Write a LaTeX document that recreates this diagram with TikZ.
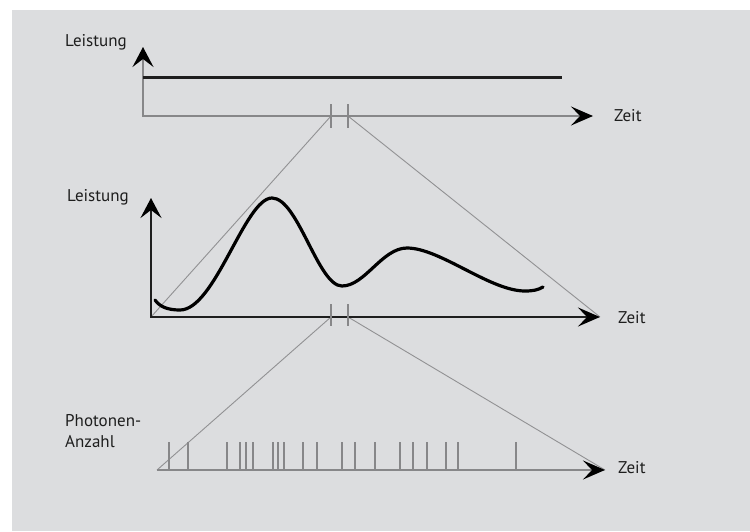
\documentclass[tikz,border=0pt]{standalone}
\usepackage{fontspec}
\setmainfont{PT Sans}
\usetikzlibrary{arrows.meta}

\definecolor{panelgrey}{RGB}{220,221,223}
\definecolor{axisgrey}{RGB}{135,135,137}
\definecolor{linegrey}{RGB}{145,145,147}
\definecolor{inkdark}{RGB}{30,30,30}

\tikzset{
  txt/.style={font=\fontsize{17}{21}\selectfont, text=inkdark, inner sep=0pt, align=left},
  thinaxis/.style={draw=axisgrey, line width=1.6pt},
  boldaxis/.style={draw=inkdark, line width=2.6pt},
  zoomline/.style={draw=linegrey, line width=0.9pt},
  tickmark/.style={draw=axisgrey, line width=1.4pt},
  bothtips/.style={{Stealth[length=20pt,width=21pt,inset=8pt,color=black]}-{Stealth[length=22pt,width=19pt,inset=9pt,color=black]}}
}

\begin{document}
\begin{tikzpicture}[x=1pt,y=-1pt]
    \useasboundingbox (0,0) rectangle (750,531);
    \fill[panelgrey] (12,10) rectangle (750,531);

    % Leistung, konstant
    \coordinate (o1) at (143,116);
    \coordinate (y1) at (143,47);
    \coordinate (x1) at (593,116);
    \coordinate (p1a) at (331,116);
    \coordinate (p1b) at (348,116);

    % Leistung, schwankend
    \coordinate (o2) at (151,317);
    \coordinate (y2) at (151,198);
    \coordinate (x2) at (600,317);
    \coordinate (p2a) at (331,317);
    \coordinate (p2b) at (348,317);

    % Photonen
    \coordinate (o3) at (157,470);
    \coordinate (x3) at (605,470);

    \draw[zoomline] (p1a) -- (o2);
    \draw[zoomline] (p1b) -- (x2);
    \draw[zoomline] (p2a) -- (o3);
    \draw[zoomline] (p2b) -- (x3);

    \draw[thinaxis, bothtips] (y1) -- (o1) -- (x1);
    \draw[inkdark, line width=3pt] (143,77) -- (562,77);
    \draw[tickmark] (331,104) -- (331,128);
    \draw[tickmark] (348,104) -- (348,128);

    \draw[boldaxis, bothtips] (y2) -- (o2) -- (x2);
    \draw[tickmark] (331,304) -- (331,326);
    \draw[tickmark] (348,304) -- (348,326);
    \draw[black, line width=3.2pt, line cap=round]
        (155,300) .. controls (160,307) and (168,310) .. (180,310)
        .. controls (215,310) and (245,198) .. (272,198)
        .. controls (298,198) and (318,286) .. (342,286)
        .. controls (365,286) and (382,248) .. (407,248)
        .. controls (440,248) and (490,291) .. (525,291)
        .. controls (533,291) and (538,290) .. (543,287);

    \draw[thinaxis, -{Stealth[length=22pt,width=19pt,inset=9pt,color=black]}] (o3) -- (x3);
    \foreach \t in {169,188,227,240,246,253,273,278,284,303,317,342,355,375,400,413,427,446,458,516}
        \draw[tickmark] (\t,442) -- (\t,470);

    \node[txt, anchor=west] (lst1) at (65,42) {Leistung};
    \node[txt, anchor=west] (lst2) at (67,197) {Leistung};
    \node[txt, anchor=north west] (phot) at (65,414) {Photonen-\\Anzahl};
    \node[txt, anchor=west] (zeit1) at (614,116) {Zeit};
    \node[txt, anchor=west] (zeit2) at (618,318) {Zeit};
    \node[txt, anchor=west] (zeit3) at (618,468) {Zeit};

\end{tikzpicture}
\end{document}
